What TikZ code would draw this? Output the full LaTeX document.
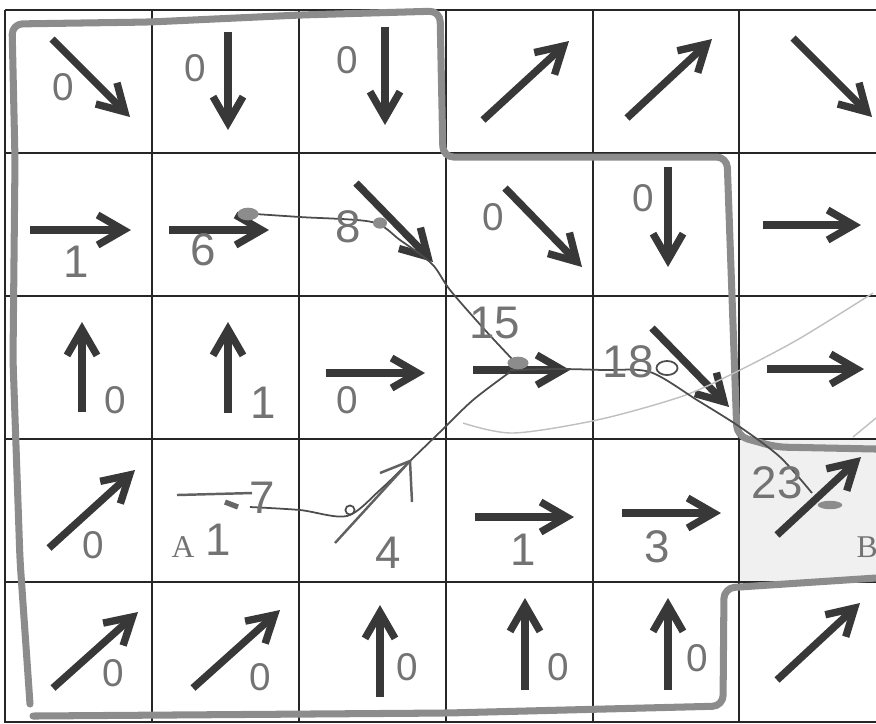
\documentclass[tikz,border=0pt]{standalone}
\usepackage{fontspec}
\setmainfont{Liberation Serif}
\setsansfont{Liberation Sans}
\usetikzlibrary{arrows.meta}
\tikzset{
  gridln/.style ={black!85, line width=0.6pt},
  vec/.style    ={black!78, line width=2.1pt, -{Straight Barb[length=2.6mm,width=3mm]}},
  hand/.style   ={black!55, font=\sffamily\fontsize{11}{11}\selectfont, inner sep=0pt},
  handbig/.style={hand, font=\sffamily\fontsize{13}{13}\selectfont},
  printed/.style={black!55, font=\fontsize{9}{9}\selectfont, inner sep=0pt},
  marker/.style ={black!45, line width=2pt, line cap=round, line join=round, rounded corners=3pt},
  trail/.style  ={black!70, line width=0.5pt},
  pen/.style    ={black!62, line width=0.7pt},
  faint/.style  ={black!25, line width=0.4pt},
  blob/.style   ={fill=black!45},
}

\begin{document}
\begin{tikzpicture}[x=0.01cm,y=-0.01cm]
  \useasboundingbox (0,0) rectangle (876,723);
  \fill[black!6] (739,439) rectangle (876,582);
  \foreach \x in {5,152,299,446,593,739}{\draw[gridln] (\x,10) -- (\x,723);}
  \foreach \y in {10,153,296,439,582,722}{\draw[gridln] (5,\y) -- (876,\y);}
  % printed arrows, row by row
  \foreach \xa/\ya/\xb/\yb in {52/39/130/117, 228/32/228/130, 385/27/385/125, 483/120/569/41, 627/118/712/39, 793/38/872/117,
    30/230/131/230, 169/230/269/230, 356/183/433/262, 505/188/582/267, 668/167/668/267, 763/225/861/225,
    82/412/82/322, 228/413/228/322, 326/373/425/373, 473/370/570/370, 652/328/729/407, 767/369/864/369,
    49/548/135/470, 475/517/574/517, 622/513/721/513, 777/535/861/457,
    53/688/138/612, 193/688/280/610, 380/697/380/605, 525/690/525/598, 668/690/668/598, 777/680/860/603}
    {\draw[vec] (\xa,\ya) -- (\xb,\yb);}
  % marker outline
  \draw[marker] (30,704) -- (20,560) -- (13,360) -- (15,160) -- (12,24) -- (150,22) -- (300,15) -- (440,11)
    -- (443,157) -- (727,157) -- (737,436) -- (776,447) -- (876,449);
  \draw[marker] (876,578) -- (724,588) -- (723,706) -- (447,713) -- (33,716);
  \draw[faint] plot[smooth] coordinates {(463,423) (513,433) (597,420) (680,397) (730,375) (797,340) (873,293)};
  \draw[faint] (853,437) -- (876,418);
  % hand drawn route
  \draw[trail] plot[smooth] coordinates {(240,213) (300,217) (372,222) (400,240) (432,264) (450,290) (485,330) (513,360)};
  \draw[trail] plot[smooth] coordinates {(250,507) (300,510) (347,516) (380,490) (410,461) (440,432) (473,400) (510,372)};
  \draw[trail] plot[smooth] coordinates {(510,370) (560,369) (603,370) (650,372) (697,400) (740,427) (780,457) (812,493)};
  \draw[pen] (335,543) -- (409,462);
  \draw[pen] (380,473) -- (410,461) -- (412,502);
  \draw[pen] (177,495) -- (252,493);
  \draw[black!60, line width=1.5pt] (225,502) -- (238,507);
  \draw[trail] (350,510) circle[radius=1.3pt];
  \fill[blob] (248,214) ellipse[x radius=3pt, y radius=1.8pt];
  \fill[blob] (380,223) ellipse[x radius=2pt, y radius=1.6pt];
  \fill[blob] (518,363) ellipse[x radius=3pt, y radius=1.8pt];
  \draw[trail] (667,368) ellipse[x radius=3pt, y radius=2pt];
  \fill[blob] (830,505) ellipse[x radius=3.5pt, y radius=1.2pt];
  % cell values
  \foreach \px/\py [count=\i] in {63/87, 195/68, 347/60, 493/217, 643/198, 115/400, 347/400, 93/545, 113/673, 260/677, 407/667, 558/667, 697/658}
    {\node[hand] (z\i) at (\px,\py) {0};}
  \node[handbig] (v1) at (76,262) {1};
  \node[handbig] (v6) at (203,250) {6};
  \node[handbig] (v8) at (348,227) {8};
  \node[handbig] (v1b) at (263,403) {1};
  \node[handbig] (v15) at (495,323) {15};
  \node[handbig] (v18) at (628,362) {18};
  \node[handbig] (v1c) at (218,540) {1};
  \node[handbig] (v7) at (262,498) {7};
  \node[handbig] (v4) at (388,553) {4};
  \node[handbig] (v1d) at (523,550) {1};
  \node[handbig] (v3) at (657,547) {3};
  \node[handbig] (v23) at (777,483) {23};
  \node[printed] (ptA) at (183,547) {A};
  \node[printed, anchor=west] (ptB) at (856,547) {B};
\end{tikzpicture}
\end{document}
